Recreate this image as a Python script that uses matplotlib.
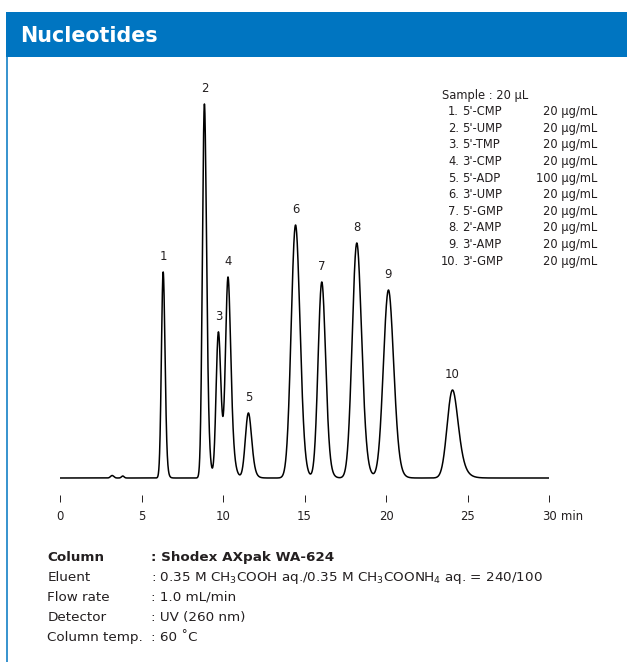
import numpy as np
import matplotlib
matplotlib.use("Agg")
import matplotlib.pyplot as plt
from matplotlib.patches import Rectangle
from matplotlib.lines import Line2D

plt.rcParams['font.family'] = ['DejaVu Sans']
plt.rcParams['mathtext.fontset'] = 'dejavusans'
plt.rcParams['mathtext.default'] = 'regular'

# ---- data ----
peak_labels = ["1", "2", "3", "4", "5", "6", "7", "8", "9", "10"]
retention_min = [6.33, 8.86, 9.72, 10.31, 11.56, 14.45, 16.06, 18.21, 20.15, 24.08]
peak_height = [206, 374, 146, 198, 65, 253, 196, 235, 188, 88]
peak_sigma = [0.10, 0.11, 0.125, 0.135, 0.17, 0.25, 0.21, 0.26, 0.29, 0.29]
peak_tau = [0.06, 0.09, 0.12, 0.13, 0.12, 0.12, 0.12, 0.15, 0.15, 0.25]

minor_rt = [3.2, 3.85]
minor_height = [2.5, 2.0]
minor_sigma = [0.10, 0.08]

x_ticks = [0, 5, 10, 15, 20, 25, 30]

sample_title = "Sample : 20 µL"
sample_nums = ["1.", "2.", "3.", "4.", "5.", "6.", "7.", "8.", "9.", "10."]
sample_names = ["5'-CMP", "5'-UMP", "5'-TMP", "3'-CMP", "5'-ADP",
                "3'-UMP", "5'-GMP", "2'-AMP", "3'-AMP", "3'-GMP"]
sample_conc = ["20 µg/mL", "20 µg/mL", "20 µg/mL", "20 µg/mL", "100 µg/mL",
               "20 µg/mL", "20 µg/mL", "20 µg/mL", "20 µg/mL", "20 µg/mL"]

cond_keys = ["Column", "Eluent", "Flow rate", "Detector", "Column temp."]
cond_vals = [": Shodex AXpak WA-624",
             ": 0.35 M CH$_3$COOH aq./0.35 M CH$_3$COONH$_4$ aq. = 240/100",
             ": 1.0 mL/min",
             ": UV (260 nm)",
             ": 60 ˚C"]

title = "Nucleotides"


def emg_peak(t, rt, h, sigma, tau):
    """Exponentially modified Gaussian, scaled so its maximum is h at rt."""
    du = 0.002
    u = np.arange(-6 * sigma, 6 * sigma + 12 * tau, du)
    g = np.exp(-0.5 * (u / sigma) ** 2)
    v = np.arange(0, 12 * tau, du)
    k = np.exp(-v / tau)
    conv = np.convolve(g, k)[:len(u)]
    conv = conv / conv.max()
    u_mode = u[np.argmax(conv)]
    return h * np.interp(t - rt + u_mode, u, conv, left=0.0, right=0.0)


# ---- build chromatogram trace ----
t = np.linspace(0, 30, 6001)
signal = np.zeros_like(t)
for rt, h, s, tau in zip(retention_min, peak_height, peak_sigma, peak_tau):
    signal += emg_peak(t, rt, h, s, tau)
for rt, h, s in zip(minor_rt, minor_height, minor_sigma):
    signal += h * np.exp(-0.5 * ((t - rt) / s) ** 2)

W, H = 627, 662
fig = plt.figure(figsize=(W / 100, H / 100), dpi=100)
TXT = "#231f20"
BLUE = "#0075c1"


def fx(x):
    return x / W


def fy(y):
    return 1 - y / H


# header band
fig.patches.append(Rectangle((fx(6), fy(56.7)), fx(627) - fx(6), fy(11.7) - fy(56.7),
                             transform=fig.transFigure, facecolor=BLUE, edgecolor='none'))
fig.lines.append(Line2D([fx(6.7), fx(6.7)], [fy(56.7), fy(662)], transform=fig.transFigure,
                        color=BLUE, lw=1.1))
fig.text(fx(20), fy(41.7), title, color='white', fontsize=14.9, fontweight='bold',
         ha='left', va='baseline')

# chart axes
ax_left, ax_right = 60, 549
ax_bottom, ax_top = 495, 80
base_px = 478
ax = fig.add_axes([fx(ax_left), fy(ax_bottom), fx(ax_right) - fx(ax_left),
                   fy(ax_top) - fy(ax_bottom)])
ax.plot(t, signal, color='black', lw=1.1)
ax.set_xlim(0, 30)
ax.set_ylim(-(ax_bottom - base_px), (base_px - ax_top))
for sp in ax.spines.values():
    sp.set_visible(False)
ax.set_yticks([])
ax.set_xticks(x_ticks)
ax.set_xticklabels([str(v) for v in x_ticks])
ax.tick_params(axis='x', direction='out', length=5.3, width=0.7, color=TXT,
               labelsize=8.4, labelcolor=TXT, pad=5.5)
ax.patch.set_alpha(0)

for lab, rt in zip(peak_labels, retention_min):
    idx = np.argmin(np.abs(t - rt))
    ax.annotate(lab, xy=(rt, signal[idx]), xytext=(0, 11.3), textcoords='offset points',
                ha='center', va='center', fontsize=8.4, color=TXT)

fig.text(fx(572), fy(516.4), "min", ha='center', va='center', fontsize=8.4, color=TXT)

# sample legend
fig.text(fx(442.3), fy(98.7), sample_title, ha='left', va='baseline', fontsize=8.3, color=TXT)
for i, (n, nm, c) in enumerate(zip(sample_nums, sample_names, sample_conc)):
    yb = 115 + i * 16.63
    fig.text(fx(459), fy(yb), n, ha='right', va='baseline', fontsize=8.3, color=TXT)
    fig.text(fx(462.5), fy(yb), nm, ha='left', va='baseline', fontsize=8.3, color=TXT)
    fig.text(fx(597), fy(yb), c, ha='right', va='baseline', fontsize=8.3, color=TXT)

# conditions
baselines = [560.7, 580.7, 600.7, 620.7, 640.7]
for i, (k, v) in enumerate(zip(cond_keys, cond_vals)):
    fw = 'bold' if i == 0 else 'normal'
    fig.text(fx(47.3), fy(baselines[i]), k, ha='left', va='baseline', fontsize=9.7,
             fontweight=fw, color=TXT)
    fig.text(fx(151), fy(baselines[i]), v, ha='left', va='baseline', fontsize=9.7,
             fontweight=fw, color=TXT)

fig.savefig("out.png", dpi=100)
